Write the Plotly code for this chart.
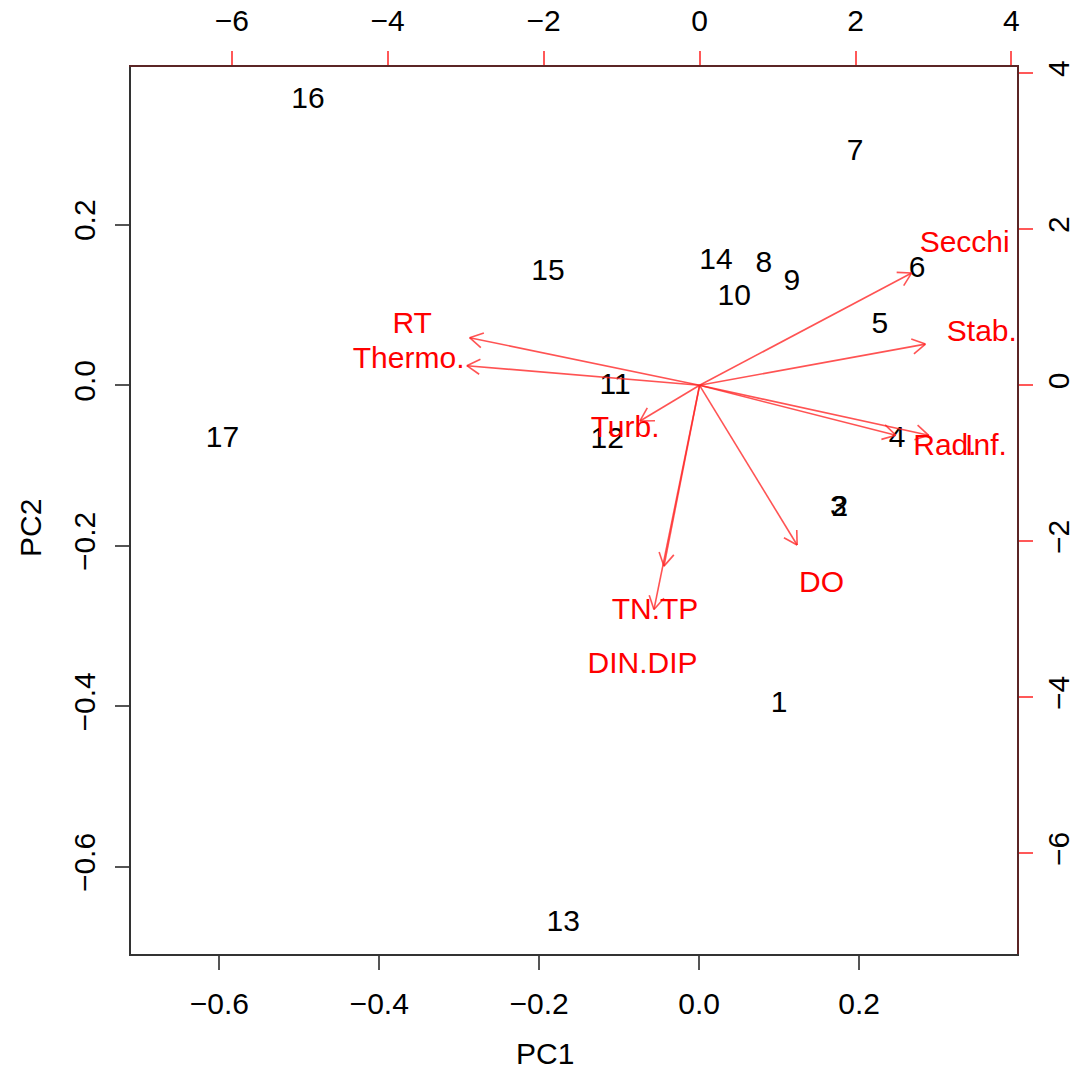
import math
import plotly.graph_objects as go

# Sample scores (PC1, PC2)
sample_labels = ["1", "2", "3", "4", "5", "6", "7", "8", "9", "10",
                 "11", "12", "13", "14", "15", "16", "17"]
pc1_scores = [0.100, 0.176, 0.174, 0.2475, 0.226, 0.2725, 0.195, 0.081, 0.116, 0.044,
              -0.105, -0.115, -0.170, 0.021, -0.189, -0.489, -0.596]
pc2_scores = [-0.398, -0.153, -0.153, -0.068, 0.075, 0.144, 0.2897, 0.150, 0.128, 0.109,
              -0.002, -0.069, -0.671, 0.154, 0.140, 0.3545, -0.068]

# Variable loadings (label positions; arrows drawn to 0.8 of these)
var_labels = ["Secchi", "Stab.", "Rad.", "Inf.", "RT", "Thermo.", "Turb.", "TN.TP", "DIN.DIP", "DO"]
load_pc1 = [3.40, 3.62, 3.147, 3.673, -3.686, -3.731, -0.955, -0.571, -0.731, 1.564]
load_pc2 = [1.80, 0.66, -0.801, -0.801, 0.763, 0.314, -0.571, -2.897, -3.590, -2.558]

W, H = 1071, 1070
M = dict(l=131, r=54, t=67, b=116)
x_range = [-0.7104, 0.3975]
y_range = [-0.7084, 0.3965]
x2_range = [-7.292, 4.071]
y2_range = [-7.288, 4.079]

FONT = "Liberation Sans, Arial, Helvetica, sans-serif"
FS = 30

# pixels per data unit on the loadings axes, for shaping arrowheads
plot_w = W - M["l"] - M["r"]
plot_h = H - M["t"] - M["b"]
kx = plot_w / (x2_range[1] - x2_range[0])
ky = plot_h / (y2_range[1] - y2_range[0])

head_len = 15.0
head_ang = math.radians(30)
ax_x, ax_y = [], []
for lx, ly in zip(load_pc1, load_pc2):
    tx, ty = 0.8 * lx, 0.8 * ly
    ax_x += [0, tx, None]
    ax_y += [0, ty, None]
    # direction in pixel space
    dx, dy = tx * kx, ty * ky
    n = math.hypot(dx, dy)
    ux, uy = dx / n, dy / n
    for s in (1, -1):
        c, sn = math.cos(s * head_ang), math.sin(s * head_ang)
        bx = ux * c - uy * sn
        by = ux * sn + uy * c
        ax_x += [tx - head_len * bx / kx, tx, None]
        ax_y += [ty - head_len * by / ky, ty, None]

fig = go.Figure()

fig.add_trace(go.Scatter(
    x=pc1_scores, y=pc2_scores, mode="text", text=sample_labels,
    textposition="middle center",
    textfont=dict(family=FONT, size=FS, color="#000000"),
    xaxis="x", yaxis="y", showlegend=False, hoverinfo="skip"))

fig.add_trace(go.Scatter(
    x=ax_x, y=ax_y, mode="lines",
    line=dict(color="rgba(255,40,40,0.8)", width=1.6),
    xaxis="x2", yaxis="y2", showlegend=False, hoverinfo="skip"))

fig.add_trace(go.Scatter(
    x=load_pc1, y=load_pc2, mode="text", text=var_labels,
    textposition="middle center",
    textfont=dict(family=FONT, size=FS, color="#ff0000"),
    xaxis="x2", yaxis="y2", showlegend=False, hoverinfo="skip"))

tick_font = dict(family=FONT, size=FS, color="#000000")
common = dict(showgrid=False, zeroline=False, ticks="outside", ticklen=14, tickwidth=2,
              tickfont=tick_font, automargin=False)

fig.update_layout(
    width=W, height=H, margin=M,
    paper_bgcolor="white", plot_bgcolor="white",
    font=dict(family=FONT, size=FS, color="#000000"),
    xaxis=dict(range=x_range, tickvals=[-0.6, -0.4, -0.2, 0.0, 0.2], tickformat=".1f",
               showline=True, linecolor="#333333", linewidth=2, tickcolor="#555555",
               ticklabelstandoff=8, **common),
    yaxis=dict(range=y_range, tickvals=[-0.6, -0.4, -0.2, 0.0, 0.2], tickformat=".1f",
               tickangle=-90, showline=True, linecolor="#333333", linewidth=2,
               tickcolor="#555555", ticklabelstandoff=8, **common),
    xaxis2=dict(range=x2_range, overlaying="x", side="top", anchor="y",
                tickvals=[-6, -4, -2, 0, 2, 4], showline=True, linecolor="#5b2525",
                linewidth=2, tickcolor="rgba(255,70,70,0.9)", ticklabelstandoff=8, **common),
    yaxis2=dict(range=y2_range, overlaying="y", side="right", anchor="x",
                tickvals=[-6, -4, -2, 0, 2, 4], tickangle=-90, showline=True,
                linecolor="#5b2525", linewidth=2, tickcolor="rgba(255,70,70,0.9)",
                ticklabelstandoff=0, **common),
    annotations=[
        dict(text="PC1", xref="paper", yref="paper", x=(545 - M["l"]) / plot_w,
             y=-(1053 - (H - M["b"])) / plot_h, xanchor="center", yanchor="middle",
             showarrow=False, font=tick_font),
        dict(text="PC2", xref="paper", yref="paper", x=-(M["l"] - 30) / plot_w,
             y=1 - (528 - M["t"]) / plot_h, xanchor="center", yanchor="middle",
             textangle=-90, showarrow=False, font=tick_font),
    ],
)

fig.write_html("out.html")
